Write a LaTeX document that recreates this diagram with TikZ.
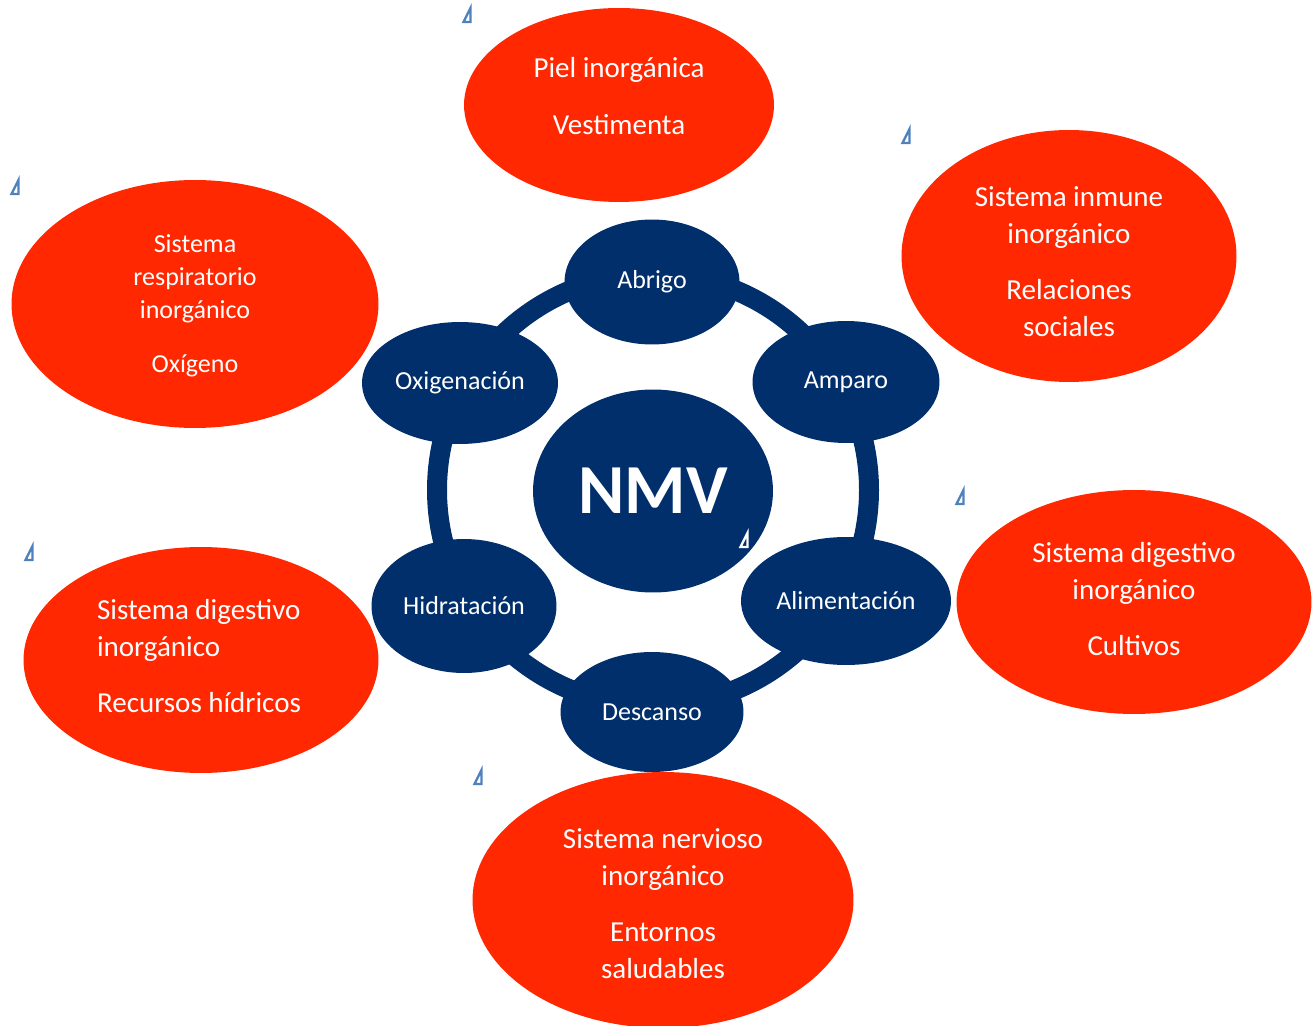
\documentclass[tikz,border=0pt]{standalone}
\usepackage{fontspec}
\setmainfont{Carlito}
\usepackage{xcolor}
\usepackage{tikz}
\usetikzlibrary{shapes.geometric}
\definecolor{nmvblue}{RGB}{0,47,108}
\definecolor{needred}{RGB}{255,40,0}
\definecolor{markblue}{RGB}{79,129,189}
\tikzset{
    core/.style={ellipse, fill=nmvblue, text=white, inner sep=0pt, font=\fontsize{40}{44}\selectfont\bfseries},
    need/.style={ellipse, fill=nmvblue, text=white, inner sep=0pt, font=\fontsize{14.8}{18}\selectfont},
    organ/.style={ellipse, fill=needred, inner sep=0pt},
    organtxt/.style={text=white, inner sep=0pt, align=center, font=\fontsize{16.5}{21}\selectfont},
    ringline/.style={draw=nmvblue, line width=0.4cm},
    pics/anchortri/.style={code={\draw[fill=white, line width=1.3pt, line join=miter, draw=#1] (-3.5,7) -- (3.5,-7) -- (3.5,7) -- cycle;}},
    pics/anchortri/.default=markblue,
}

\begin{document}
\begin{tikzpicture}[x=0.02cm, y=-0.02cm]
    \useasboundingbox (0,0) rectangle (1314,1026);

    \draw[ringline] (653,490) circle[radius=216];

    % centre and the six needs
    \node[core, minimum width=4.8cm, minimum height=4.06cm] (nmv) at (653,491) {NMV};
    \node[need, minimum width=3.5cm, minimum height=2.5cm] (abrigo) at (652,282) {Abrigo};
    \node[need, minimum width=3.74cm, minimum height=2.44cm] (amparo) at (846,382) {Amparo};
    \node[need, minimum width=4.2cm, minimum height=2.56cm] (alim) at (846,601) {Alimentación};
    \node[need, minimum width=3.66cm, minimum height=2.4cm] (descanso) at (652,712) {Descanso};
    \node[need, minimum width=3.7cm, minimum height=2.68cm] (hidra) at (464,606) {Hidratación};
    \node[need, minimum width=3.92cm, minimum height=2.44cm] (oxi) at (460,383) {Oxigenación};

    % inorganic systems
    \node[organ, minimum width=6.2cm, minimum height=3.88cm] (piel) at (619,105) {};
    \node[organ, minimum width=6.7cm, minimum height=5.04cm] (inmune) at (1069,256) {};
    \node[organ, minimum width=7.1cm, minimum height=4.48cm] (digest) at (1134,602) {};
    \node[organ, minimum width=7.62cm, minimum height=5.12cm] (nervio) at (663,900) {};
    \node[organ, minimum width=7.1cm, minimum height=4.52cm] (hidrico) at (201,660) {};
    \node[organ, minimum width=7.34cm, minimum height=4.96cm] (resp) at (195,304) {};

    \node[organtxt, yshift=0.18cm] (pieltxt) at (piel.center) {Piel inorgánica\\[11pt]Vestimenta};
    \node[organtxt, yshift=-0.12cm] (inmunetxt) at (inmune.center)
        {Sistema inmune\\inorgánico\\[11pt]Relaciones\\sociales};
    \node[organtxt, yshift=-0.24cm] (digesttxt) at (digest.center)
        {Sistema digestivo\\inorgánico\\[11pt]Cultivos\\[-4pt]};
    \node[organtxt, yshift=-0.08cm] (nerviotxt) at (nervio.center)
        {Sistema nervioso\\inorgánico\\[11pt]Entornos\\saludables};
    \node[organtxt, align=left, yshift=-0.22cm, xshift=-0.04cm] (hidricotxt) at (hidrico.center)
        {Sistema digestivo\\inorgánico\\[11pt]Recursos hídricos\\[-4pt]};
    \node[organtxt, yshift=-0.22cm, font=\fontsize{14.8}{18.7}\selectfont] (resptxt) at (resp.center)
        {Sistema\\respiratorio\\inorgánico\\[12pt]Oxígeno\\[-6pt]};

    % anchor marks
    \pic at (467,15) {anchortri};
    \pic at (906,136) {anchortri};
    \pic at (15,187) {anchortri};
    \pic at (960,497) {anchortri};
    \pic at (29,553) {anchortri};
    \pic at (478,777) {anchortri};
    \pic at (744,540) {anchortri={white, fill=nmvblue}};
\end{tikzpicture}
\end{document}
